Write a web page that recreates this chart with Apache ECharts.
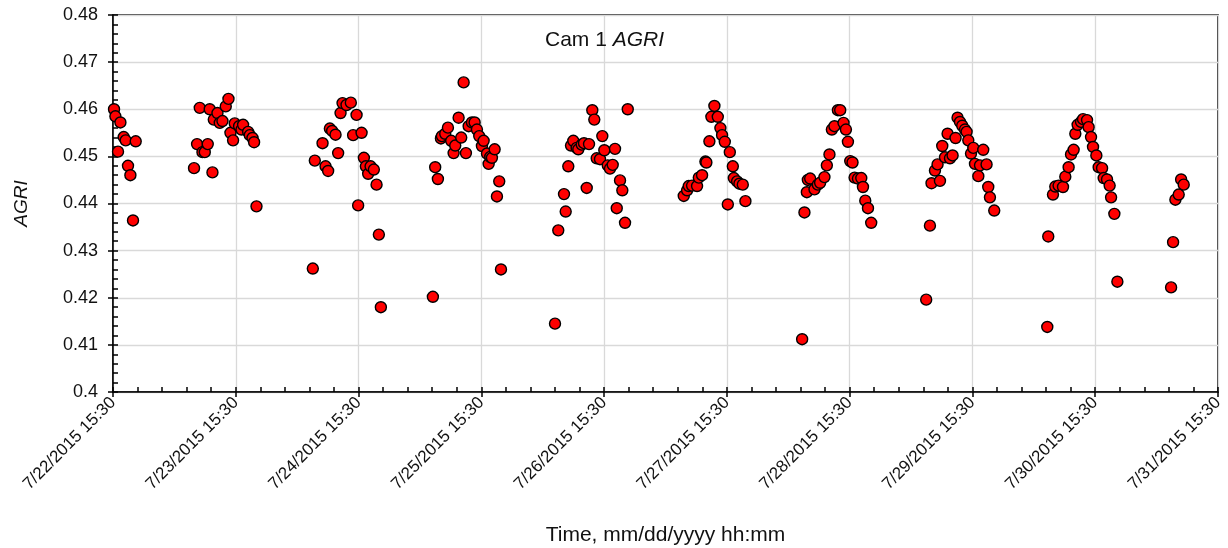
<!DOCTYPE html>
<html>
<head>
<meta charset="utf-8">
<title>Cam 1 AGRI</title>
<script src="https://cdn.jsdelivr.net/npm/echarts@6/dist/echarts.min.js"></script>
<style>
  * { box-sizing: border-box; margin: 0; padding: 0; }
  html, body { width: 1228px; height: 548px; background: #fff; }
  #chart { width: 1228px; height: 548px; }
</style>
</head>
<body>
<div id="chart"></div>
<script>
  // x = hours elapsed since 7/22/2015 15:30, y = AGRI, one pair of arrays per day
  const t22 = [0.2, 0.47, 0.98, 1.45, 2.09, 2.48, 2.93, 3.40, 3.91, 4.44];
  const v22 = [0.4600, 0.4585, 0.4510, 0.4572, 0.4541, 0.4534, 0.4480, 0.4460, 0.4364, 0.4532];

  const t23 = [15.84, 16.43, 16.96, 17.49, 17.94, 18.52, 18.91, 19.44, 19.70, 20.42, 20.87, 21.40, 22.04, 22.57, 22.96, 23.47, 23.80, 24.65, 25.12, 25.43, 26.41, 26.74, 27.27, 27.58, 28.05];
  const v23 = [0.4475, 0.4526, 0.4603, 0.4509, 0.4509, 0.4526, 0.4600, 0.4466, 0.4578, 0.4592, 0.4571, 0.4575, 0.4606, 0.4622, 0.4550, 0.4534, 0.4570, 0.4564, 0.4557, 0.4567, 0.4552, 0.4545, 0.4539, 0.4530, 0.4394];

  const t24 = [39.06, 39.45, 40.96, 41.55, 42.05, 42.39, 42.84, 43.50, 44.01, 44.48, 44.87, 45.65, 46.49, 46.94, 47.61, 47.92, 48.59, 49.04, 49.43, 49.88, 50.35, 50.99, 51.52, 51.97, 52.36];
  const v24 = [0.4262, 0.4491, 0.4528, 0.4479, 0.4469, 0.4559, 0.4554, 0.4546, 0.4507, 0.4592, 0.4613, 0.4609, 0.4614, 0.4545, 0.4588, 0.4396, 0.4550, 0.4497, 0.4479, 0.4463, 0.4479, 0.4472, 0.4440, 0.4334, 0.4180];

  const t25 = [62.53, 62.98, 63.51, 64.10, 64.29, 64.94, 65.47, 66.11, 66.58, 66.90, 67.56, 68.07, 68.54, 68.99, 69.52, 70.16, 70.69, 71.14, 71.59, 72.12, 72.45, 73.10, 73.43, 73.74, 74.07, 74.60, 75.05, 75.50, 75.84];
  const v25 = [0.4202, 0.4477, 0.4452, 0.4538, 0.4543, 0.4548, 0.4561, 0.4533, 0.4507, 0.4523, 0.4582, 0.4540, 0.4657, 0.4507, 0.4564, 0.4572, 0.4572, 0.4557, 0.4543, 0.4522, 0.4533, 0.4506, 0.4484, 0.4499, 0.4497, 0.4515, 0.4415, 0.4447, 0.4260];

  const t26 = [86.40, 87.04, 88.16, 88.49, 89.00, 89.53, 89.98, 90.64, 90.96, 91.62, 92.07, 92.60, 93.05, 93.69, 94.08, 94.55, 95.20, 95.65, 96.04, 96.71, 97.15, 97.68, 98.13, 98.47, 99.11, 99.56, 100.09, 100.62];
  const v26 = [0.4145, 0.4343, 0.4420, 0.4383, 0.4479, 0.4523, 0.4533, 0.4518, 0.4515, 0.4525, 0.4528, 0.4433, 0.4526, 0.4598, 0.4578, 0.4496, 0.4494, 0.4543, 0.4513, 0.4481, 0.4474, 0.4482, 0.4516, 0.4390, 0.4449, 0.4428, 0.4359, 0.4600];

  const t27 = [111.57, 112.22, 112.55, 113.19, 114.17, 114.51, 115.15, 115.80, 115.99, 116.58, 116.97, 117.56, 118.22, 118.73, 119.06, 119.59, 120.18, 120.57, 121.16, 121.35, 122.00, 122.45, 123.11, 123.62];
  const v27 = [0.4416, 0.4428, 0.4437, 0.4438, 0.4437, 0.4455, 0.4460, 0.4489, 0.4487, 0.4532, 0.4584, 0.4607, 0.4584, 0.4560, 0.4545, 0.4531, 0.4398, 0.4509, 0.4479, 0.4454, 0.4447, 0.4442, 0.4440, 0.4405];

  const t28 = [134.71, 135.16, 135.63, 135.83, 136.28, 137.12, 137.78, 138.23, 139.07, 139.54, 140.05, 140.52, 141.03, 141.70, 142.15, 142.80, 143.27, 143.66, 144.11, 144.56, 144.96, 145.62, 146.27, 146.60, 147.05, 147.58, 148.21];
  const v28 = [0.4112, 0.4381, 0.4424, 0.4450, 0.4453, 0.4430, 0.4440, 0.4444, 0.4456, 0.4481, 0.4504, 0.4557, 0.4564, 0.4598, 0.4598, 0.4571, 0.4557, 0.4531, 0.4490, 0.4487, 0.4455, 0.4453, 0.4454, 0.4435, 0.4406, 0.4390, 0.4359];

  const t29 = [158.96, 159.69, 160.00, 160.67, 161.18, 161.65, 162.10, 162.63, 163.14, 163.61, 164.12, 164.70, 165.09, 165.56, 166.01, 166.54, 166.86, 167.19, 167.72, 168.17, 168.50, 169.15, 169.48, 170.11, 170.76, 171.09, 171.42, 172.26];
  const v29 = [0.4196, 0.4353, 0.4443, 0.4470, 0.4483, 0.4448, 0.4522, 0.4498, 0.4548, 0.4496, 0.4502, 0.4539, 0.4582, 0.4573, 0.4565, 0.4557, 0.4552, 0.4534, 0.4506, 0.4518, 0.4484, 0.4458, 0.4481, 0.4514, 0.4483, 0.4435, 0.4413, 0.4385];

  const t30 = [182.63, 182.82, 183.74, 184.19, 184.84, 185.70, 186.15, 186.80, 187.27, 187.78, 188.11, 188.56, 189.23, 189.62, 190.40, 190.71, 191.18, 191.57, 192.22, 192.67, 193.34, 193.65, 194.31, 194.82, 195.10, 195.74, 196.33];
  const v30 = [0.4138, 0.4330, 0.4419, 0.4436, 0.4438, 0.4435, 0.4457, 0.4477, 0.4504, 0.4514, 0.4548, 0.4567, 0.4573, 0.4579, 0.4577, 0.4562, 0.4541, 0.4520, 0.4502, 0.4477, 0.4475, 0.4454, 0.4451, 0.4438, 0.4413, 0.4378, 0.4234];

  const t31 = [206.83, 207.22, 207.67, 208.32, 208.79, 209.30];
  const v31 = [0.4222, 0.4318, 0.4408, 0.4419, 0.4451, 0.4440];

  const dateLabels = ['7/22/2015 15:30', '7/23/2015 15:30', '7/24/2015 15:30', '7/25/2015 15:30', '7/26/2015 15:30',
    '7/27/2015 15:30', '7/28/2015 15:30', '7/29/2015 15:30', '7/30/2015 15:30', '7/31/2015 15:30'];

  const days = [[t22, v22], [t23, v23], [t24, v24], [t25, v25], [t26, v26], [t27, v27], [t28, v28], [t29, v29], [t30, v30], [t31, v31]];
  const points = [];
  days.forEach(function (d) {
    const n = Math.min(d[0].length, d[1].length);
    for (let i = 0; i < n; i++) points.push([d[0][i], d[1][i]]);
  });

  const font = 'Liberation Sans, Arial, sans-serif';
  const ink = '#111';

  const myChart = echarts.init(document.getElementById('chart'));
  const option = {
    animation: false,
    backgroundColor: '#fff',
    title: {
      text: '{n|Cam 1 }{i|AGRI}',
      left: 540,
      top: 25,
      textStyle: {
        rich: {
          n: { fontFamily: font, fontSize: 21, fontWeight: 'normal', color: ink },
          i: { fontFamily: font, fontSize: 21, fontWeight: 'normal', color: ink, fontStyle: 'italic' }
        }
      }
    },
    grid: {
      left: 113,
      right: 10,
      top: 15,
      bottom: 156,
      outerBoundsMode: 'none',
      containLabel: false,
      show: true,
      borderColor: '#000',
      borderWidth: 1.5
    },
    xAxis: [
      {
        type: 'value',
        min: 0,
        max: 216,
        interval: 24,
        position: 'bottom',
        name: 'Time, mm/dd/yyyy hh:mm',
        nameLocation: 'middle',
        nameGap: 133,
        nameTextStyle: { fontFamily: font, fontSize: 21, color: ink },
        axisLine: { show: true, lineStyle: { color: '#000', width: 1.5 } },
        axisTick: { show: true, inside: false, length: 5, lineStyle: { color: '#000', width: 1.5 } },
        axisLabel: {
          rotate: 45,
          margin: 8,
          fontFamily: font,
          fontSize: 17,
          color: ink,
          formatter: function (v) { return dateLabels[Math.round(v / 24)]; }
        },
        splitLine: { show: true, lineStyle: { color: '#d9d9d9', width: 1.3 } }
      },
      {
        // inside half of the ticks plus minor ticks
        type: 'value',
        min: 0,
        max: 216,
        interval: 24,
        position: 'bottom',
        axisLine: { show: false },
        axisLabel: { show: false },
        axisTick: { show: true, inside: true, length: 5, lineStyle: { color: '#000', width: 1.5 } },
        minorTick: { show: true, splitNumber: 5, length: 5, lineStyle: { color: '#000', width: 1.5 } },
        splitLine: { show: false }
      }
    ],
    yAxis: [
      {
        type: 'value',
        min: 0.4,
        max: 0.48,
        interval: 0.01,
        name: 'AGRI',
        nameLocation: 'middle',
        nameGap: 82,
        nameTextStyle: { fontFamily: font, fontSize: 19, color: ink, fontStyle: 'italic' },
        axisLine: { show: true, lineStyle: { color: '#000', width: 1.5 } },
        axisTick: { show: true, inside: false, length: 5, lineStyle: { color: '#000', width: 1.5 } },
        axisLabel: { margin: 15, fontFamily: font, fontSize: 18, color: ink },
        splitLine: { show: true, lineStyle: { color: '#d9d9d9', width: 1.3 } }
      },
      {
        type: 'value',
        min: 0.4,
        max: 0.48,
        interval: 0.01,
        position: 'left',
        axisLine: { show: false },
        axisLabel: { show: false },
        axisTick: { show: true, inside: true, length: 5, lineStyle: { color: '#000', width: 1.5 } },
        minorTick: { show: true, splitNumber: 5, length: 5, lineStyle: { color: '#000', width: 1.5 } },
        splitLine: { show: false }
      }
    ],
    series: [
      {
        name: 'AGRI',
        type: 'scatter',
        xAxisIndex: 0,
        yAxisIndex: 0,
        symbol: 'circle',
        symbolSize: 11,
        itemStyle: { color: '#ff0000', borderColor: '#000', borderWidth: 1.4, opacity: 1 },
        data: points
      }
    ]
  };

  myChart.setOption(option);
</script>
</body>
</html>
